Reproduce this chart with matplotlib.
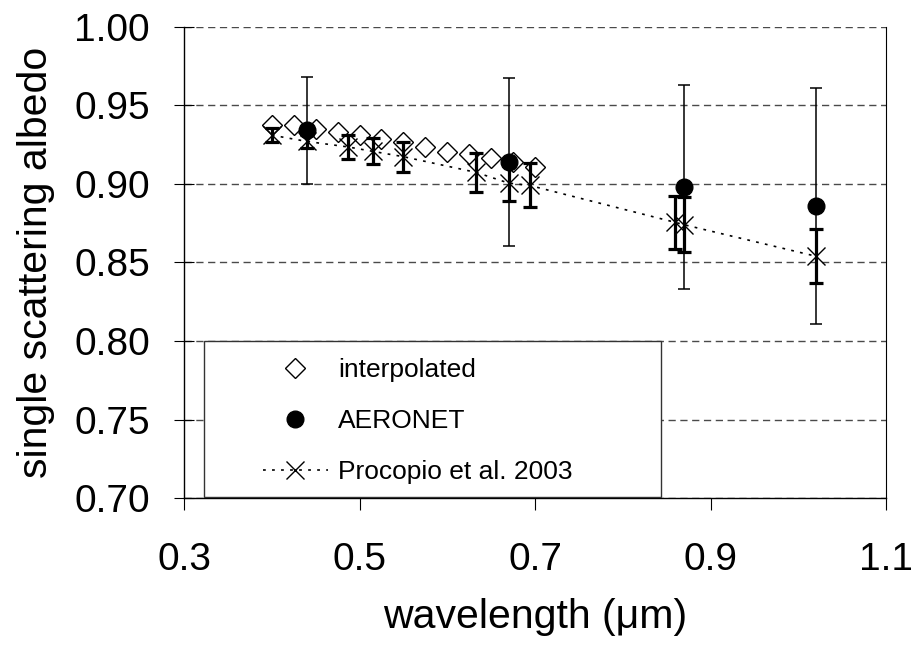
import matplotlib
matplotlib.use("Agg")
import matplotlib.pyplot as plt
import matplotlib.ticker as mticker
from matplotlib.patches import Rectangle

plt.rcParams['font.family'] = ['Liberation Sans', 'DejaVu Sans']
plt.rcParams['lines.scale_dashes'] = False

# interpolated single scattering albedo
wl_interp = [0.400, 0.425, 0.450, 0.475, 0.500, 0.525, 0.550, 0.575, 0.600, 0.625, 0.650, 0.675, 0.700]
ssa_interp = [0.9375, 0.9372, 0.9347, 0.9328, 0.9311, 0.9286, 0.9269, 0.9237, 0.9205, 0.9190, 0.9163, 0.9140, 0.9110]

# AERONET retrievals
wl_aeronet = [0.44, 0.67, 0.87, 1.02]
ssa_aeronet = [0.934, 0.914, 0.898, 0.886]
err_aeronet = [0.034, 0.0535, 0.065, 0.075]

# Procopio et al. 2003
wl_proc = [0.40, 0.44, 0.487, 0.515, 0.55, 0.633, 0.67, 0.694, 0.86, 0.87, 1.02]
ssa_proc = [0.931, 0.927, 0.9235, 0.9207, 0.9173, 0.9073, 0.9005, 0.899, 0.8755, 0.874, 0.854]
err_proc = [0.0046, 0.0042, 0.0077, 0.0083, 0.0095, 0.0123, 0.0117, 0.014, 0.0168, 0.0174, 0.0173]

x_ticks = [0.3, 0.5, 0.7, 0.9, 1.1]
y_ticks = [0.70, 0.75, 0.80, 0.85, 0.90, 0.95, 1.00]

fig = plt.figure(figsize=(9.12, 6.51), dpi=100)
ax = fig.add_axes([0.2018, 0.2346, 0.7697, 0.7244])

# gridlines
ax.yaxis.grid(True, color='#4a4a4a', linewidth=1.0, linestyle=(0, (5.2, 3.3)), zorder=0)
ax.set_axisbelow(True)

ax.plot(wl_interp, ssa_interp, linestyle='none', marker='D', markersize=10,
        markerfacecolor='white', markeredgecolor='black', markeredgewidth=1.0,
        label='interpolated', zorder=3)

ax.errorbar(wl_aeronet, ssa_aeronet, yerr=err_aeronet, fmt='none', ecolor='black',
            elinewidth=1.1, capsize=4.3, capthick=1.1, zorder=4)
ax.plot(wl_aeronet, ssa_aeronet, linestyle='none', marker='o', markersize=12,
        markerfacecolor='black', markeredgecolor='black', label='AERONET', zorder=6)

ax.errorbar(wl_proc, ssa_proc, yerr=err_proc, fmt='none', ecolor='black',
            elinewidth=2.3, capsize=4.7, capthick=2.3, zorder=5)
ax.plot(wl_proc, ssa_proc, linestyle=(0, (2.0, 4.5)), linewidth=1.2, color='black',
        marker='x', markersize=13, markeredgewidth=1.0, label='Procopio et al. 2003', zorder=5)

ax.set_xlim(0.3, 1.1)
ax.set_ylim(0.70, 1.00)
ax.set_xticks(x_ticks)
ax.set_yticks(y_ticks)
ax.xaxis.set_major_formatter(mticker.FormatStrFormatter('%.1f'))
ax.yaxis.set_major_formatter(mticker.FormatStrFormatter('%.2f'))

ax.tick_params(axis='x', direction='out', length=8.6, width=0.8, pad=23, labelsize=28)
ax.tick_params(axis='y', direction='inout', length=15, width=0.8, pad=17, labelsize=28)

ax.spines['top'].set_visible(False)
ax.spines['left'].set_linewidth(1.0)
ax.spines['bottom'].set_linewidth(1.0)
ax.spines['right'].set_linewidth(0.8)

ax.set_xlabel('wavelength (\u03bcm)', fontsize=29.5, labelpad=14)
ax.set_ylabel('single scattering albedo', fontsize=29.5, labelpad=14)

# legend box
box = Rectangle((0.0285, 0.003), 0.651, 0.331, transform=ax.transAxes,
                facecolor='white', edgecolor='#333333', linewidth=1.0, zorder=7)
ax.add_patch(box)
leg = ax.legend(loc='center left', bbox_to_anchor=(0.1125, 0.164), frameon=False,
                fontsize=19, handlelength=2.45, handletextpad=0.4, labelspacing=1.02,
                borderpad=0, borderaxespad=0, numpoints=1)
leg.set_zorder(8)

fig.savefig('out.png', dpi=100)
